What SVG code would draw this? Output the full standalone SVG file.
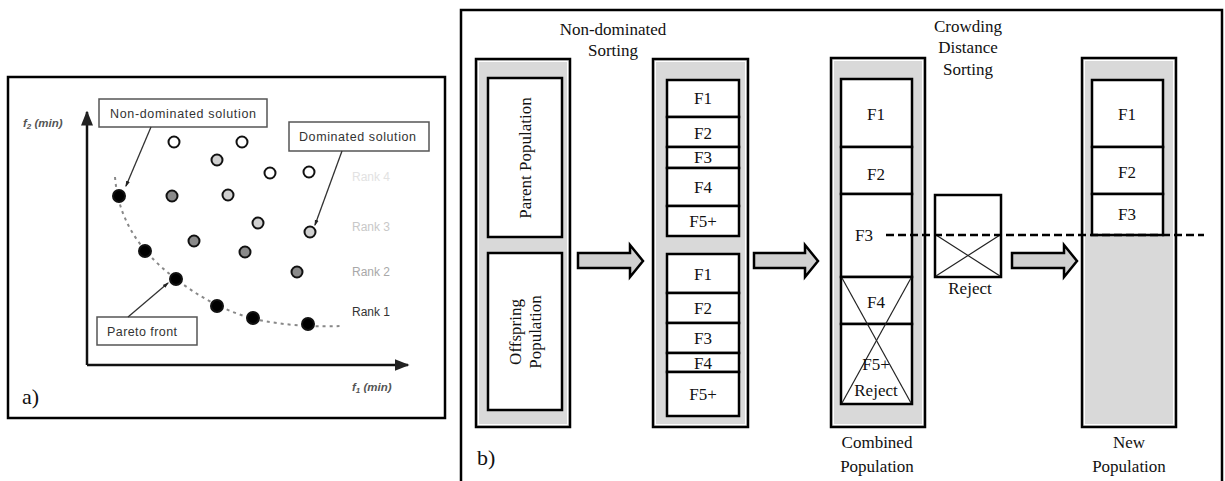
<svg xmlns="http://www.w3.org/2000/svg" width="1225" height="481" viewBox="0 0 1225 481">
<style>
.frame{fill:#fff;stroke:#000;stroke-width:2.5}
.lbl{fill:#fff;stroke:#555;stroke-width:1.5}
.outer{fill:#d9d9d9;stroke:#000;stroke-width:2.5}
.inner{fill:#fff;stroke:#000;stroke-width:2.5}
.pt{stroke:#111;stroke-width:2}
.cross{stroke:#222;stroke-width:1.2;fill:none}
.barrow{fill:#d0d0d0;stroke:#000;stroke-width:2.5;stroke-linejoin:miter}
</style>
<defs>
<marker id="ah" viewBox="0 0 10 10" refX="9" refY="5" markerWidth="6" markerHeight="6" orient="auto"><path d="M0,1 L10,5 L0,9 z" fill="#222"/></marker>
<marker id="ahs" viewBox="0 0 10 10" refX="8" refY="5" markerWidth="5" markerHeight="5" orient="auto"><path d="M0,2 L10,5 L0,8 z" fill="#222"/></marker>
</defs>
<rect width="1225" height="481" fill="#fff"/>

<!-- Panel a -->
<g id="panel-a">
<rect class="frame" x="8" y="77" width="437" height="341"/>
<g id="axes">
<line x1="87" y1="365" x2="87" y2="112" stroke="#111" stroke-width="2.5" marker-end="url(#ah)"/>
<line x1="87" y1="365" x2="408" y2="365" stroke="#111" stroke-width="2.5" marker-end="url(#ah)"/>
<text font-family="Liberation Sans, Arial, sans-serif" x="23" y="127" font-size="11.5" font-style="italic" font-weight="bold" fill="#555">f<tspan font-size="8" dy="2">2</tspan><tspan dy="-2"> (min)</tspan></text>
<text font-family="Liberation Sans, Arial, sans-serif" x="352" y="391" font-size="11.5" font-style="italic" font-weight="bold" fill="#555">f<tspan font-size="8" dy="2">1</tspan><tspan dy="-2"> (min)</tspan></text>
<text x="22" y="404" font-family="Liberation Serif, serif" font-size="22" fill="#111">a)</text>
</g>
<path d="M115,177 C118,215 135,248 176,279 C205,302 240,318 270,322 C295,326 320,327 340,326" fill="none" stroke="#888" stroke-width="2" stroke-dasharray="3,4"/>
<g id="rank-labels" font-family="Liberation Sans, Arial, sans-serif" font-size="12">
<text x="352" y="181" fill="#e2e2e2">Rank 4</text>
<text x="352" y="231" fill="#c8c8c8">Rank 3</text>
<text x="352" y="276" fill="#a8a8a8">Rank 2</text>
<text x="352" y="316" fill="#333">Rank 1</text>
</g>
<g id="rank1" fill="#000" class="pt">
<circle cx="119" cy="196" r="6"/><circle cx="145" cy="251" r="6"/><circle cx="176" cy="279" r="6"/>
<circle cx="217" cy="306" r="6"/><circle cx="253" cy="318" r="6"/><circle cx="308" cy="324" r="6"/>
</g>
<g id="rank2" fill="#8a8a8a" class="pt">
<circle cx="172" cy="196" r="5.5"/><circle cx="194" cy="241" r="5.5"/><circle cx="245" cy="252" r="5.5"/><circle cx="297" cy="272" r="5.5"/>
</g>
<g id="rank3" fill="#d0d0d0" class="pt">
<circle cx="217" cy="160" r="5.5"/><circle cx="228" cy="195" r="5.5"/><circle cx="258" cy="223" r="5.5"/><circle cx="310" cy="232" r="5.5"/>
</g>
<g id="rank4" fill="#fff" class="pt">
<circle cx="174" cy="142" r="5.5"/><circle cx="242" cy="142" r="5.5"/><circle cx="270" cy="173" r="5.5"/><circle cx="309" cy="172" r="5.5"/>
</g>
<g id="callouts" font-family="Liberation Sans, Arial, sans-serif" font-size="12.5" fill="#333">
<g id="lbl-nondominated"><rect class="lbl" x="99" y="99" width="168" height="28"/><text x="110" y="118" textLength="146">Non-dominated solution</text></g>
<g id="lbl-dominated"><rect class="lbl" x="289" y="122" width="140" height="29"/><text x="299" y="141" textLength="117">Dominated solution</text></g>
<g id="lbl-pareto"><rect class="lbl" x="97" y="317" width="100" height="28"/><text x="107" y="336" textLength="70">Pareto front</text></g>
<line x1="151" y1="127" x2="126" y2="186" stroke="#333" stroke-width="1.3" marker-end="url(#ahs)"/>
<line x1="342" y1="151" x2="315" y2="225" stroke="#333" stroke-width="1.3" marker-end="url(#ahs)"/>
<line x1="128" y1="317" x2="168" y2="283" stroke="#333" stroke-width="1.3" marker-end="url(#ahs)"/>
</g>
</g>

<!-- Panel b -->
<g id="panel-b" font-family="Liberation Serif, Times New Roman, serif">
<path d="M461,490 L461,10 L1222,10 L1222,490" fill="#fff" stroke="#000" stroke-width="2.5"/>
<text x="477" y="465" font-size="22" fill="#111">b)</text>
<g font-size="17" text-anchor="middle" fill="#111">
<text x="613" y="35">Non-dominated</text>
<text x="613" y="56">Sorting</text>
<text x="968" y="32">Crowding</text>
<text x="968" y="53">Distance</text>
<text x="968" y="75">Sorting</text>
<text x="877" y="448">Combined</text>
<text x="877" y="472">Population</text>
<text x="1129" y="448">New</text>
<text x="1129" y="472">Population</text>
</g>

<g id="col-parent-offspring">
<rect class="outer" x="476" y="59" width="94" height="368"/>
<rect x="478.5" y="61.5" width="89" height="363" fill="none" stroke="#fff" stroke-width="1"/>
<g id="parent"><rect class="inner" x="488" y="78" width="74" height="159"/>
<text font-size="17" text-anchor="middle" fill="#111" transform="translate(531,158) rotate(-90)">Parent Population</text></g>
<g id="offspring"><rect class="inner" x="488" y="253" width="74" height="157"/>
<text font-size="17" text-anchor="middle" fill="#111" transform="translate(521,332) rotate(-90)"><tspan x="0" y="0">Offspring</tspan><tspan x="0" y="20">Population</tspan></text></g>
</g>

<g id="col-sorted">
<rect class="outer" x="653" y="59" width="95" height="368"/>
<rect x="655.5" y="61.5" width="90" height="363" fill="none" stroke="#fff" stroke-width="1"/>
<rect class="inner" x="667" y="80" width="72" height="37"/>
<rect class="inner" x="667" y="117" width="72" height="30"/>
<rect class="inner" x="667" y="147" width="72" height="21"/>
<rect class="inner" x="667" y="168" width="72" height="38"/>
<rect class="inner" x="667" y="206" width="72" height="30"/>
<rect class="inner" x="667" y="254" width="72" height="39"/>
<rect class="inner" x="667" y="293" width="72" height="30"/>
<rect class="inner" x="667" y="323" width="72" height="30"/>
<rect class="inner" x="667" y="353" width="72" height="19"/>
<rect class="inner" x="667" y="372" width="72" height="44"/>
<g font-size="17" text-anchor="middle" fill="#111">
<text x="703" y="104">F1</text><text x="703" y="139">F2</text><text x="703" y="163">F3</text><text x="703" y="193">F4</text><text x="703" y="227">F5+</text>
<text x="703" y="280">F1</text><text x="703" y="314">F2</text><text x="703" y="344">F3</text><text x="703" y="369">F4</text><text x="703" y="400">F5+</text>
</g>
</g>

<g id="col-combined">
<rect class="outer" x="831" y="58" width="94" height="369"/>
<rect x="833.5" y="60.5" width="89" height="364" fill="none" stroke="#fff" stroke-width="1"/>
<rect class="inner" x="841" y="79" width="71" height="68"/>
<rect class="inner" x="841" y="147" width="71" height="47"/>
<rect class="inner" x="841" y="194" width="71" height="83"/>
<rect class="inner" x="841" y="277" width="71" height="47"/>
<rect class="inner" x="841" y="324" width="71" height="80"/>
<line class="cross" x1="842" y1="278" x2="911" y2="403"/>
<line class="cross" x1="911" y1="278" x2="842" y2="403"/>
<g font-size="17" text-anchor="middle" fill="#111">
<text x="876" y="120">F1</text><text x="876" y="180">F2</text><text x="864" y="241">F3</text><text x="876" y="308">F4</text>
<text x="876" y="370">F5+</text><text x="876" y="396">Reject</text>
</g>
</g>

<g id="reject">
<rect class="inner" x="935" y="195" width="66" height="82"/>
<line class="cross" x1="936" y1="235" x2="1000" y2="276"/>
<line class="cross" x1="1000" y1="235" x2="936" y2="276"/>
<text font-size="17" text-anchor="middle" fill="#111" x="970" y="294">Reject</text>
</g>

<g id="col-new">
<rect class="outer" x="1082" y="58" width="94" height="369"/>
<rect x="1084.5" y="60.5" width="89" height="364" fill="none" stroke="#fff" stroke-width="1"/>
<rect class="inner" x="1092" y="80" width="71" height="67"/>
<rect class="inner" x="1092" y="147" width="71" height="47"/>
<rect class="inner" x="1092" y="194" width="71" height="41"/>
<g font-size="17" text-anchor="middle" fill="#111">
<text x="1127" y="120">F1</text><text x="1127" y="178">F2</text><text x="1127" y="220">F3</text>
</g>
</g>

<g id="connectors">
<path class="barrow" d="M578,253 L630,253 L630,245 L643,261 L630,277 L630,268 L578,268 Z"/>
<path class="barrow" d="M754,253 L805,253 L805,245 L818,261 L805,277 L805,268 L754,268 Z"/>
<path class="barrow" d="M1012,253 L1064,253 L1064,245 L1077,261 L1064,277 L1064,268 L1012,268 Z"/>
<line x1="886" y1="235" x2="1204" y2="235" stroke="#000" stroke-width="2.5" stroke-dasharray="8,4"/>
</g>
</g>
</svg>
